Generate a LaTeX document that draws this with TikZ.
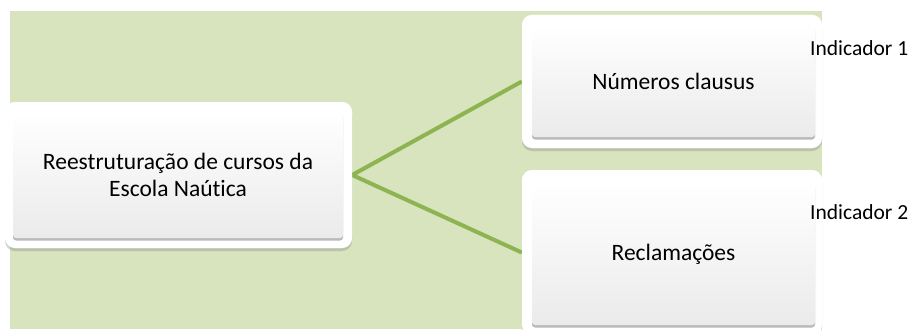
\documentclass[tikz,border=0pt]{standalone}
\usepackage{fontspec}
\setmainfont{Carlito}[Ligatures=NoCommon]
\usetikzlibrary{shadows}
\definecolor{bggreen}{HTML}{D7E4BD}
\definecolor{linegreen}{HTML}{8DB451}
\tikzset{
  frame/.style={rectangle, rounded corners=10pt, fill=white, draw=none,
    drop shadow={shadow xshift=0pt, shadow yshift=-3pt, opacity=0.25, fill=black!40}},
  inner/.style={rectangle, rounded corners=3pt, top color=white, bottom color=black!8,
    draw=none, align=center, font=\fontsize{23.5}{27}\selectfont,
    drop shadow={shadow xshift=0pt, shadow yshift=-2.5pt, opacity=0.6, fill=black!45}},
  conn/.style={draw=linegreen, line width=4pt},
  ind/.style={anchor=west, inner sep=0pt, font=\fontsize{21.5}{24}\selectfont}
}
\begin{document}
\begin{tikzpicture}[x=1pt,y=-1pt]
\useasboundingbox (0,0) rectangle (912,329);
\fill[bggreen] (10,11) rectangle (822,329);
% frames
\node[frame, minimum width=347pt, minimum height=146pt] (srcf) at (178.5,175) {};
\node[frame, minimum width=300pt, minimum height=133pt] (topf) at (672,81.5) {};
\node[frame, minimum width=300pt, minimum height=165pt] (botf) at (672,252.5) {};
% connectors
\draw[conn] (srcf.east) -- (topf.west);
\draw[conn] (srcf.east) -- (botf.west);
\node[frame, minimum width=347pt, minimum height=146pt] at (178.5,175) {};
\node[frame, minimum width=300pt, minimum height=133pt] at (672,81.5) {};
\node[frame, minimum width=300pt, minimum height=165pt] at (672,252.5) {};
% inner boxes
\node[inner, minimum width=330pt, minimum height=126pt] (src) at (178,175)
  {Reestruturação de cursos da\\Escola Naútica};
\node[inner, minimum width=283pt, minimum height=112pt] (top) at (673.5,81)
  {Números clausus};
\node[inner, minimum width=283pt, minimum height=142pt] (bot) at (673.5,254)
  {Reclamações};
% indicators
\node[ind] (i1) at (810,48) {Indicador 1};
\node[ind] (i2) at (810,212) {Indicador 2};
\end{tikzpicture}
\end{document}
